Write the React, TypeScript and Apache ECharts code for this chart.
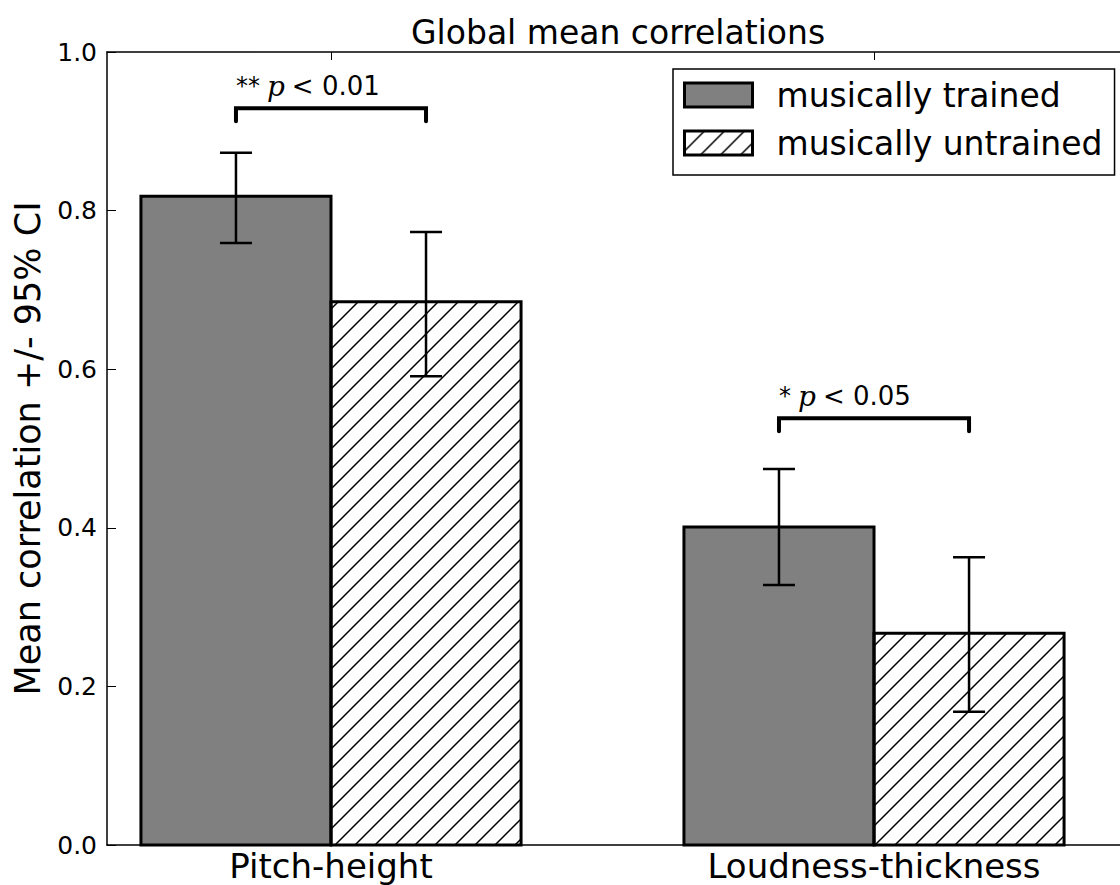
import React, { useEffect, useRef } from "react";
import * as echarts from "echarts";

const categories = ["Pitch-height", "Loudness-thickness"];
const seriesNames = ["musically trained", "musically untrained"];
const trained = [0.818, 0.401];
const untrained = [0.685, 0.267];
const trainedLow = [0.759, 0.328];
const trainedHigh = [0.873, 0.474];
const untrainedLow = [0.591, 0.168];
const untrainedHigh = [0.773, 0.363];
const sigStars = ["**", "*"];
const sigP = ["0.01", "0.05"];
const sigLevel = [0.929, 0.538];
const yTicks = [0, 0.2, 0.4, 0.6, 0.8, 1.0];

const BAR_W = 0.35; // bar width in axis units
const X_MIN = -0.4125;
const X_MAX = 1.453;

const hatchSvg =
  "<svg xmlns='http://www.w3.org/2000/svg' width='20' height='20'>" +
  "<path d='M-5 5L5 -5M0 20L20 0M15 25L25 15' stroke='black' stroke-width='1.5' fill='none'/></svg>";
const hatchUrl = "data:image/svg+xml;base64," + btoa(hatchSvg);

export default function App() {
  const ref = useRef<HTMLDivElement>(null);
  useEffect(() => {
    if (!ref.current) return;
    const chart = echarts.init(ref.current, null, { renderer: "svg" });
    const font = "DejaVu Sans";
    const hatch: any = { image: hatchUrl, repeat: "repeat", imageWidth: 20, imageHeight: 20 };

    const errData: number[][] = [];
    categories.forEach((_, i) => {
      errData.push([i - BAR_W / 2, trainedLow[i], trainedHigh[i]]);
      errData.push([i + BAR_W / 2, untrainedLow[i], untrainedHigh[i]]);
    });
    const sigData = categories.map((_, i) => [i - BAR_W / 2, i + BAR_W / 2, sigLevel[i], i]);

    const barRender = (x0Off: number, x1Off: number, fill: any) => (params: any, api: any) => {
      const i = api.value(0);
      const v = api.value(1);
      const p0 = api.coord([i + x0Off, 0]);
      const p1 = api.coord([i + x1Off, v]);
      return {
        type: "rect",
        shape: { x: p0[0], y: p1[1], width: p1[0] - p0[0], height: p0[1] - p1[1] },
        style: { fill, stroke: "#000", lineWidth: 3 },
      };
    };

    const option: any = {
      animation: false,
      backgroundColor: "#fff",
      textStyle: { fontFamily: font },
      title: {
        text: "Global mean correlations",
        left: 406,
        top: 11,
        textStyle: { fontFamily: font, fontSize: 33, fontWeight: "normal", color: "#000" },
      },
      legend: {
        orient: "vertical",
        left: 673,
        top: 69,
        padding: [9, 12, 15, 10],
        itemWidth: 68,
        itemHeight: 24,
        itemGap: 14,
        icon: "rect",
        borderColor: "#000",
        borderWidth: 1.5,
        backgroundColor: "#fff",
        itemStyle: { borderColor: "#000", borderWidth: 3 },
        textStyle: { fontFamily: font, fontSize: 33, lineHeight: 34, color: "#000", padding: [0, 0, 0, 19] },
        data: [
          { name: seriesNames[0], itemStyle: { color: "#808080", borderColor: "#000", borderWidth: 3 } },
          { name: seriesNames[1], itemStyle: { color: hatch, borderColor: "#000", borderWidth: 3 } },
        ],
      },
      grid: { left: 107, right: 0, top: 52, bottom: 40, containLabel: false },
      xAxis: [
        {
          type: "value",
          min: X_MIN,
          max: X_MAX,
          position: "bottom",
          splitLine: { show: false },
          axisLine: { onZero: false, lineStyle: { color: "#000", width: 1.5 } },
          axisTick: { inside: true, length: 8, customValues: [0, 1], lineStyle: { color: "#000", width: 1 } },
          axisLabel: {
            customValues: [0, 1],
            formatter: (v: number) => categories[Math.round(v)] ?? "",
            fontFamily: font,
            fontSize: 34,
            color: "#000",
            margin: 4,
          },
        },
        {
          type: "value",
          min: X_MIN,
          max: X_MAX,
          position: "top",
          splitLine: { show: false },
          axisLine: { onZero: false, lineStyle: { color: "#000", width: 1.5 } },
          axisTick: { inside: true, length: 8, customValues: [0, 1], lineStyle: { color: "#000", width: 1 } },
          axisLabel: { show: false },
        },
      ],
      yAxis: {
        type: "value",
        min: 0,
        max: 1,
        interval: 0.2,
        name: "Mean correlation +/- 95% CI",
        nameLocation: "middle",
        nameRotate: 90,
        nameGap: 62,
        nameTextStyle: { fontFamily: font, fontSize: 35, color: "#000" },
        splitLine: { show: false },
        axisLine: { show: true, onZero: false, lineStyle: { color: "#000", width: 1.5 } },
        axisTick: { inside: true, length: 9, lineStyle: { color: "#000", width: 1 } },
        axisLabel: {
          formatter: (v: number) => v.toFixed(1),
          fontFamily: font,
          fontSize: 25,
          color: "#000",
          margin: 10,
          customValues: yTicks,
        },
      },
      series: [
        {
          name: seriesNames[0],
          type: "custom",
          xAxisIndex: 0,
          z: 2,
          itemStyle: { color: "#808080", borderColor: "#000", borderWidth: 3 },
          data: categories.map((_, i) => [i, trained[i]]),
          renderItem: barRender(-BAR_W, 0, "#808080"),
        },
        {
          name: seriesNames[1],
          type: "custom",
          xAxisIndex: 0,
          z: 2,
          itemStyle: { color: hatch, borderColor: "#000", borderWidth: 3 },
          data: categories.map((_, i) => [i, untrained[i]]),
          renderItem: barRender(0, BAR_W, hatch),
        },
        {
          type: "custom",
          xAxisIndex: 0,
          z: 5,
          data: errData,
          renderItem: (params: any, api: any) => {
            const x = api.value(0);
            const lo = api.coord([x, api.value(1)]);
            const hi = api.coord([x, api.value(2)]);
            const cap = 16;
            const style = { stroke: "#000", lineWidth: 2.5 };
            return {
              type: "group",
              children: [
                { type: "line", shape: { x1: lo[0], y1: lo[1], x2: hi[0], y2: hi[1] }, style },
                { type: "line", shape: { x1: hi[0] - cap, y1: hi[1], x2: hi[0] + cap, y2: hi[1] }, style },
                { type: "line", shape: { x1: lo[0] - cap, y1: lo[1], x2: lo[0] + cap, y2: lo[1] }, style },
              ],
            };
          },
        },
        {
          type: "custom",
          xAxisIndex: 0,
          z: 5,
          data: sigData,
          renderItem: (params: any, api: any) => {
            const x1 = api.value(0);
            const x2 = api.value(1);
            const y = api.value(2);
            const idx = api.value(3);
            const a = api.coord([x1, y]);
            const b = api.coord([x2, y]);
            const leg = 13;
            return {
              type: "group",
              children: [
                {
                  type: "polyline",
                  shape: {
                    points: [
                      [a[0], a[1] + leg],
                      [a[0], a[1]],
                      [b[0], b[1]],
                      [b[0], b[1] + leg],
                    ],
                  },
                  style: { stroke: "#000", lineWidth: 4, fill: "none", lineCap: "round", lineJoin: "miter" },
                },
                {
                  type: "text",
                  x: a[0],
                  y: a[1] - 22,
                  style: {
                    text: "{s|" + sigStars[idx] + "}{g| }{p|p}{g| }{t|< " + sigP[idx] + "}",
                    textAlign: "left",
                    textVerticalAlign: "middle",
                    rich: {
                      s: { fontFamily: font, fontSize: 24, fill: "#000" },
                      g: { fontFamily: font, fontSize: 22, fill: "#000" },
                      p: { fontFamily: "DejaVu Serif", fontStyle: "italic", fontSize: 28, fill: "#000" },
                      t: { fontFamily: font, fontSize: 26, fill: "#000" },
                    },
                  },
                },
              ],
            };
          },
        },
      ],
    };
    chart.setOption(option);
    return () => chart.dispose();
  }, []);
  return (
    <div
      ref={ref}
      style={{ position: "fixed", left: 0, top: 0, width: 1120, height: 885, background: "#fff" }}
    />
  );
}
